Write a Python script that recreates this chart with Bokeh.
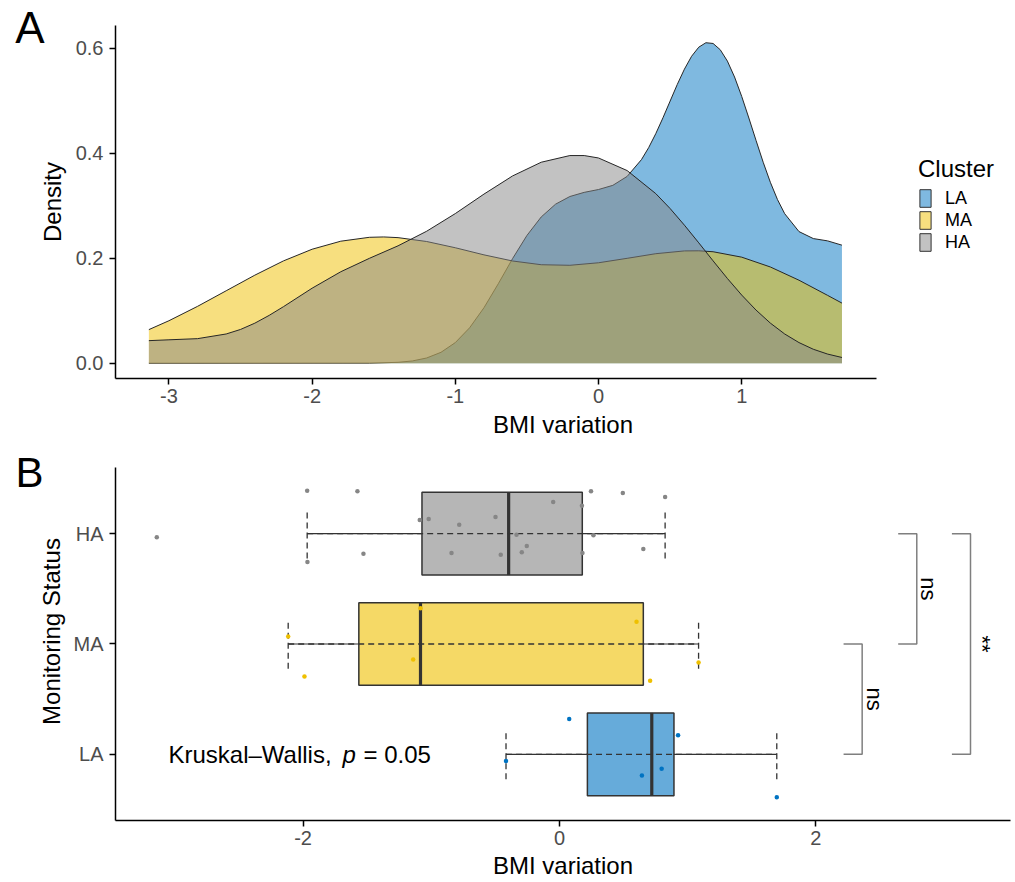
import math
import numpy as np
from bokeh.plotting import figure
from bokeh.layouts import column
from bokeh.models import (ColumnDataSource, FixedTicker, Label, Legend, LegendItem,
                          LinearAxis, PrintfTickFormatter, Range1d)
from bokeh.core.properties import value
from bokeh.embed import file_html
from bokeh.resources import INLINE

FONT = "Liberation Sans"
TICK_GREY = "#4D4D4D"

clusters = ["LA", "MA", "HA"]
cluster_colors = ["#0073C2", "#EFC000", "#868686"]

# ---------------- Panel A: density of BMI variation per cluster ----------------
la_density_x = [-3.14, -1.6, -1.4, -1.3, -1.2, -1.1, -1.0, -0.9, -0.8, -0.7, -0.6, -0.5,
                -0.4, -0.3, -0.2, -0.1, 0.0, 0.1, 0.2, 0.3, 0.35, 0.4, 0.45, 0.5, 0.55,
                0.6, 0.65, 0.7, 0.75, 0.8, 0.85, 0.9, 0.95, 1.0, 1.05, 1.1, 1.15, 1.2,
                1.25, 1.3, 1.4, 1.5, 1.6, 1.7]
la_density_y = [0.0, 0.0002, 0.0017, 0.0043, 0.0100, 0.0208, 0.0393, 0.0675, 0.1057,
                0.1513, 0.1993, 0.2433, 0.2786, 0.3029, 0.3175, 0.3254, 0.3308, 0.3388,
                0.3558, 0.3878, 0.4105, 0.4373, 0.4674, 0.4992, 0.5309, 0.5601, 0.5846,
                0.6019, 0.6104, 0.6090, 0.5971, 0.5754, 0.5451, 0.5081, 0.4670, 0.4243,
                0.3827, 0.3446, 0.3116, 0.2848, 0.2507, 0.2374, 0.2330, 0.2248]

ma_density_x = [-3.14, -3.0, -2.8, -2.6, -2.4, -2.2, -2.0, -1.8, -1.6, -1.5, -1.4, -1.2,
                -1.0, -0.8, -0.6, -0.4, -0.2, 0.0, 0.2, 0.4, 0.6, 0.7, 0.8, 1.0, 1.2,
                1.4, 1.6, 1.7]
ma_density_y = [0.0640, 0.0809, 0.1083, 0.1380, 0.1677, 0.1949, 0.2171, 0.2324, 0.2398,
                0.2405, 0.2392, 0.2318, 0.2199, 0.2064, 0.1947, 0.1876, 0.1865, 0.1913,
                0.1998, 0.2086, 0.2139, 0.2141, 0.2123, 0.2020, 0.1833, 0.1581, 0.1292,
                0.1145]

ha_density_x = [-3.14, -3.0, -2.8, -2.6, -2.5, -2.4, -2.3, -2.2, -2.0, -1.8, -1.6, -1.4,
                -1.2, -1.0, -0.8, -0.6, -0.4, -0.2, -0.1, 0.0, 0.2, 0.4, 0.5, 0.6, 0.7,
                0.8, 0.9, 1.0, 1.1, 1.2, 1.3, 1.4, 1.5, 1.6, 1.7]
ha_density_y = [0.0430, 0.0446, 0.0468, 0.0557, 0.0643, 0.0763, 0.0911, 0.1077, 0.1429,
                0.1742, 0.1998, 0.2236, 0.2514, 0.2850, 0.3221, 0.3567, 0.3828, 0.3955,
                0.3955, 0.3909, 0.3669, 0.3230, 0.2946, 0.2629, 0.2293, 0.1950, 0.1614,
                0.1298, 0.1012, 0.0764, 0.0557, 0.0393, 0.0266, 0.0174, 0.0109]

density_x_ticks = [-3, -2, -1, 0, 1]
density_y_ticks = [0.0, 0.2, 0.4, 0.6]

# ---------------- Panel B: BMI variation by monitoring status ----------------
la_bmi = [-0.417, 0.076, 0.643, 0.797, 0.925, 1.695]
la_jitter = [-0.061, 0.320, -0.193, -0.130, 0.172, -0.390]

ma_bmi = [-2.116, -1.989, -1.141, -1.084, 0.601, 0.707, 1.085]
ma_jitter = [0.069, -0.294, -0.140, 0.323, 0.202, -0.333, -0.167]

ha_bmi = [-3.141, -1.968, -1.966, -1.576, -1.529, -1.090, -1.020, -0.842, -0.782, -0.499,
          -0.458, -0.335, -0.294, -0.255, -0.049, 0.175, 0.179, 0.246, 0.265, 0.494,
          0.654, 0.824]
ha_jitter = [-0.033, 0.390, -0.257, 0.384, -0.181, 0.124, 0.133, -0.175, 0.082, 0.151,
             -0.190, -0.009, -0.169, -0.112, 0.287, 0.254, -0.175, 0.384, -0.015, 0.369,
             -0.139, 0.333]

status_levels = {"LA": 1, "MA": 2, "HA": 3}
bmi_ticks = [-2, 0, 2]

comparisons = [("LA", "MA"), ("MA", "HA"), ("LA", "HA")]
comparison_pos = [2.361, 2.787, 3.206]
comparison_labels = ["ns", "ns", "**"]
kruskal_p = "0.05"


def style_axes(p, title_size="24px", tick_size="20px"):
    for ax in list(p.xaxis) + list(p.yaxis):
        ax.axis_line_color = "black"
        ax.axis_line_width = 1.5
        ax.major_tick_line_color = "black"
        ax.major_tick_line_width = 1.5
        ax.major_tick_out = 6
        ax.major_tick_in = 0
        ax.minor_tick_line_color = None
        ax.major_label_text_font = FONT
        ax.major_label_text_font_size = tick_size
        ax.major_label_text_color = TICK_GREY
        ax.axis_label_text_font = FONT
        ax.axis_label_text_font_size = title_size
        ax.axis_label_text_font_style = "normal"
        ax.axis_label_text_color = "black"


def panel_letter(p, letter, ypos, size):
    # panel tag drawn as the single tick label of an outer, line-less left axis
    ax = LinearAxis(ticker=FixedTicker(ticks=[ypos]),
                    formatter=PrintfTickFormatter(format=letter))
    ax.axis_line_color = None
    ax.major_tick_line_color = None
    ax.minor_tick_line_color = None
    ax.major_tick_out = 0
    ax.major_tick_in = 0
    ax.major_label_standoff = -9
    ax.major_label_text_font = FONT
    ax.major_label_text_font_size = size
    ax.major_label_text_color = "black"
    p.add_layout(ax, "left")


# ================= Panel A =================
pA = figure(width=1015, height=440,
            x_range=Range1d(-3.373, 2.877), y_range=Range1d(-0.0291, 0.6432),
            output_backend="svg", toolbar_location=None,
            min_border_left=115, min_border_right=0, min_border_top=25, min_border_bottom=62,
            background_fill_color="white", border_fill_color="white")
pA.outline_line_color = None
pA.grid.visible = False

densities = {"LA": (la_density_x, la_density_y),
             "MA": (ma_density_x, ma_density_y),
             "HA": (ha_density_x, ha_density_y)}

NAN = float("nan")
legend_items = []
for name, col in zip(clusters, cluster_colors):
    xs, ys = densities[name]
    area = pA.varea(x=xs, y1=[0.0] * len(xs), y2=ys, fill_color=col, fill_alpha=0.5)
    pA.line(x=xs, y=ys, line_color="#262626", line_width=1)
    key = pA.quad(left=[NAN], right=[NAN], top=[NAN], bottom=[NAN], fill_color=None,
                  line_color="#333333", line_width=1)
    legend_items.append(LegendItem(label=name, renderers=[area, key]))

pA.xaxis.ticker = FixedTicker(ticks=density_x_ticks)
pA.xaxis.formatter = PrintfTickFormatter(format="%d")
pA.xaxis.bounds = (-3.373, 1.94)
pA.xaxis.axis_label = "BMI variation"
pA.xaxis.major_label_standoff = 4
pA.xaxis.axis_label_standoff = 5
pA.yaxis.ticker = FixedTicker(ticks=density_y_ticks)
pA.yaxis.formatter = PrintfTickFormatter(format="%.1f")
pA.yaxis.axis_label = "Density"
pA.yaxis.major_label_standoff = 6
pA.yaxis.axis_label_standoff = 7
style_axes(pA)

legend = Legend(items=legend_items, title="Cluster", location=(803, 125),
                title_text_font=FONT, title_text_font_size="24px",
                title_text_font_style="normal", title_text_color="black",
                title_standoff=4,
                label_text_font=FONT, label_text_font_size="18px", label_text_color="black",
                glyph_width=14, glyph_height=22, label_height=22, label_standoff=13,
                spacing=0, padding=0, margin=0,
                border_line_alpha=0, background_fill_alpha=0)
pA.add_layout(legend)

panel_letter(pA, "A", 0.6394, "44px")

# ================= Panel B =================
# the plotting area reaches a little above the HA row's expansion (3.6) so the
# panel tag can sit there; the drawn y axis itself stops at 3.6
B_Y_LO, B_Y_HI, B_Y_TOP = 0.4, 3.6, 3.8266
pB = figure(width=1015, height=442,
            x_range=Range1d(-3.463, 3.518), y_range=Range1d(B_Y_LO, B_Y_TOP),
            output_backend="svg", toolbar_location=None,
            min_border_left=115, min_border_right=5, min_border_top=2, min_border_bottom=62,
            background_fill_color="white", border_fill_color="white")
pB.outline_line_color = None
pB.grid.visible = False

groups = {"LA": (la_bmi, la_jitter), "MA": (ma_bmi, ma_jitter), "HA": (ha_bmi, ha_jitter)}


def box_stats(vals):
    v = np.sort(np.asarray(vals, dtype=float))
    q1, med, q3 = np.percentile(v, [25, 50, 75])
    iqr = q3 - q1
    lo = v[v >= q1 - 1.5 * iqr].min()
    hi = v[v <= q3 + 1.5 * iqr].max()
    return q1, med, q3, lo, hi


box = dict(y=[], q1=[], med=[], q3=[], lo=[], hi=[], color=[],
           bot=[], top=[], cbot=[], ctop=[])
BOX_W = 0.75
CAP_W = 0.45
for name, col in zip(clusters, cluster_colors):
    q1, med, q3, lo, hi = box_stats(groups[name][0])
    yc = status_levels[name]
    box["y"].append(yc)
    box["q1"].append(q1)
    box["med"].append(med)
    box["q3"].append(q3)
    box["lo"].append(lo)
    box["hi"].append(hi)
    box["color"].append(col)
    box["bot"].append(yc - BOX_W / 2)
    box["top"].append(yc + BOX_W / 2)
    box["cbot"].append(yc - CAP_W / 2)
    box["ctop"].append(yc + CAP_W / 2)
bsrc = ColumnDataSource(box)

LINE_C = "#333333"
# solid whiskers
pB.segment(x0="lo", y0="y", x1="q1", y1="y", source=bsrc, line_color=LINE_C, line_width=1.2)
pB.segment(x0="q3", y0="y", x1="hi", y1="y", source=bsrc, line_color=LINE_C, line_width=1.2)
# boxes
pB.hbar(y="y", height=BOX_W, left="q1", right="q3", source=bsrc, fill_color="color",
        fill_alpha=0.6, line_color=LINE_C, line_width=1.5)
# medians
pB.segment(x0="med", y0="bot", x1="med", y1="top", source=bsrc, line_color=LINE_C,
           line_width=3.2)
# dashed error bars
pB.segment(x0="lo", y0="y", x1="hi", y1="y", source=bsrc, line_color=LINE_C,
           line_width=1.3, line_dash="6 4")
pB.segment(x0="lo", y0="cbot", x1="lo", y1="ctop", source=bsrc, line_color=LINE_C,
           line_width=1.3, line_dash="6 4")
pB.segment(x0="hi", y0="cbot", x1="hi", y1="ctop", source=bsrc, line_color=LINE_C,
           line_width=1.3, line_dash="6 4")

# jittered points
for name, col in zip(clusters, cluster_colors):
    vals, jit = groups[name]
    yc = status_levels[name]
    pB.scatter(x=vals, y=[yc + j for j in jit], size=4.5, fill_color=col, line_color=None)

# comparison brackets
TIP = 0.145
br_xs, br_ys, lab_x, lab_y = [], [], [], []
for (g1, g2), pos in zip(comparisons, comparison_pos):
    y1, y2 = status_levels[g1], status_levels[g2]
    br_xs.append([pos - TIP, pos, pos, pos - TIP])
    br_ys.append([y1, y1, y2, y2])
    lab_x.append(pos)
    lab_y.append((y1 + y2) / 2)
pB.multi_line(xs=br_xs, ys=br_ys, line_color="#7F7F7F", line_width=1.5)
pB.text(x=lab_x, y=lab_y, text=comparison_labels, angle=-math.pi / 2, x_offset=12,
        text_align="center", text_baseline="alphabetic", text_font=value(FONT),
        text_font_size="22px", text_color="black")

# Kruskal-Wallis annotation
KW_X, KW_Y = -3.05, 1.0
pB.add_layout(Label(x=KW_X, y=KW_Y, text="Kruskal\u2013Wallis,", text_font=FONT,
                    text_font_size="24px", text_color="black", text_baseline="alphabetic"))
pB.add_layout(Label(x=KW_X, y=KW_Y, x_offset=174, text="p", text_font=FONT,
                    text_font_size="24px", text_font_style="italic", text_color="black",
                    text_baseline="alphabetic"))
pB.add_layout(Label(x=KW_X, y=KW_Y, x_offset=195, text="= " + kruskal_p, text_font=FONT,
                    text_font_size="24px", text_color="black", text_baseline="alphabetic"))

pB.xaxis.ticker = FixedTicker(ticks=bmi_ticks)
pB.xaxis.formatter = PrintfTickFormatter(format="%d")
pB.xaxis.axis_label = "BMI variation"
pB.xaxis.major_label_standoff = 4
pB.xaxis.axis_label_standoff = 4
pB.yaxis.ticker = FixedTicker(ticks=list(status_levels.values()))
pB.yaxis.major_label_overrides = {v: k for k, v in status_levels.items()}
pB.yaxis.bounds = (B_Y_LO, B_Y_HI)
pB.yaxis.axis_label = "Monitoring Status"
pB.yaxis.major_label_standoff = 6
pB.yaxis.axis_label_standoff = 6
style_axes(pB)

panel_letter(pB, "B", 3.709, "42px")

layout = column(pA, pB, spacing=0)
with open("out.html", "w") as f:
    f.write(file_html(layout, INLINE, title="BMI variation by cluster"))
